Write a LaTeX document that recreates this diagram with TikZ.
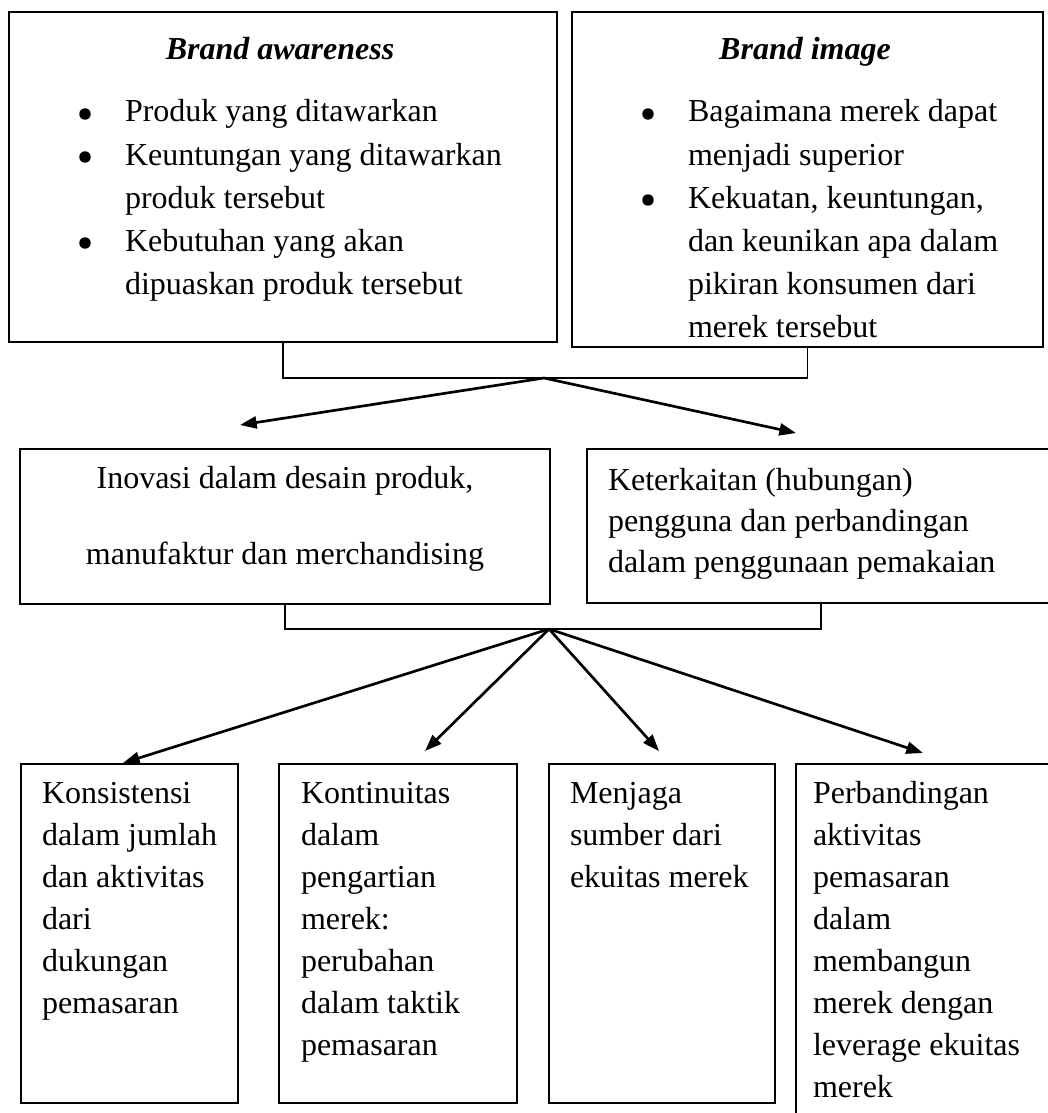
\documentclass[tikz,border=0pt]{standalone}
\usepackage{fontspec}
\setmainfont{Liberation Serif}
\usetikzlibrary{arrows.meta}
\newcommand\mybox[5]{\node[box, anchor=north west, minimum width={(#4-#2)*0.75pt}, minimum height={(#5-#3)*0.75pt}] (#1) at (#2,#3) {};}
\begin{document}
\begin{tikzpicture}[x=0.75pt, y=-0.75pt,
  box/.style={draw, line width=1.4pt, inner sep=0pt, outer sep=0pt},
  txt/.style={anchor=base west, inner sep=0pt, outer sep=0pt, font=\fontsize{24}{28}\selectfont},
  ctxt/.style={txt, anchor=base},
  head/.style={ctxt, font=\fontsize{24}{28}\selectfont\bfseries\itshape},
  dot/.style={circle, fill, inner sep=0pt, minimum size=8.6pt},
  conn/.style={line width=1.4pt},
  arr/.style={line width=2pt, -{Triangle[length=12.5pt,width=9pt]}}]
\fill[white] (0,0) rectangle (1048,1113);
\useasboundingbox (0,0) rectangle (1048,1113);
\clip (0,0) rectangle (1048,1113);

% top boxes
\mybox{boxA}{9}{12}{557}{342}
\mybox{boxB}{572}{12}{1043}{347}
\node[head] (hA) at (280,60) {Brand awareness};
\node[head] (hB) at (805,60) {Brand image};

\node[dot] (dA1) at (85,114) {};
\node[dot] (dA2) at (85,157) {};
\node[dot] (dA3) at (85,243) {};
\node[txt] (a1) at (125,122) {Produk yang ditawarkan};
\node[txt] (a2) at (125,165) {Keuntungan yang ditawarkan};
\node[txt] (a3) at (125,208) {produk tersebut};
\node[txt] (a4) at (125,251) {Kebutuhan yang akan};
\node[txt] (a5) at (125,294) {dipuaskan produk tersebut};

\node[dot] (dB1) at (648,114) {};
\node[dot] (dB2) at (648,200) {};
\node[txt] (b1) at (688,122) {Bagaimana merek dapat};
\node[txt] (b2) at (688,165) {menjadi superior};
\node[txt] (b3) at (688,208) {Kekuatan, keuntungan,};
\node[txt] (b4) at (688,251) {dan keunikan apa dalam};
\node[txt] (b5) at (688,294) {pikiran konsumen dari};
\node[txt] (b6) at (688,337) {merek tersebut};

% bracket 1 and arrows
\coordinate (m1) at (544,378);
\draw[conn] (boxA.south) -- (boxA.south |- m1) -- (boxB.south |- m1) -- (boxB.south);
\coordinate (t1) at (240,425);
\coordinate (t2) at (796,433);
\draw[arr] (m1) -- (t1);
\draw[arr] (m1) -- (t2);

% middle boxes
\mybox{boxC}{20}{449}{550}{604}
\mybox{boxD}{587}{449}{1055}{603}
\node[ctxt] (c1) at (285,488) {Inovasi dalam desain produk,};
\node[ctxt] (c2) at (285,564) {manufaktur dan merchandising};
\node[txt] (e1) at (608,490) {Keterkaitan (hubungan)};
\node[txt] (e2) at (608,531) {pengguna dan perbandingan};
\node[txt] (e3) at (608,572) {dalam penggunaan pemakaian};

% bracket 2 and arrows
\coordinate (m2) at (549,629);
\draw[conn] (boxC.south) -- (boxC.south |- m2) -- (boxD.south |- m2) -- (boxD.south);
\coordinate (u1) at (123,763);
\coordinate (u2) at (425,751);
\coordinate (u3) at (659,751);
\coordinate (u4) at (923,753);
\foreach \k in {1,2,3,4} \draw[arr] (m2) -- (u\k);

% bottom boxes
\mybox{boxE}{21}{764}{238}{1103}
\mybox{boxF}{279}{764}{517}{1103}
\mybox{boxG}{549}{764}{775}{1103}
\mybox{boxH}{796}{764}{1070}{1130}

\foreach \t [count=\i] in {Konsistensi, dalam jumlah, dan aktivitas, dari, dukungan, pemasaran}
  \node[txt] (p\i) at ({42},{803+(\i-1)*42}) {\t};
\foreach \t [count=\i] in {Kontinuitas, dalam, pengartian, merek:, perubahan, dalam taktik, pemasaran}
  \node[txt] (q\i) at ({301},{803+(\i-1)*42}) {\t};
\foreach \t [count=\i] in {Menjaga, sumber dari, ekuitas merek}
  \node[txt] (r\i) at ({570},{803+(\i-1)*42}) {\t};
\foreach \t [count=\i] in {Perbandingan, aktivitas, pemasaran, dalam, membangun, merek dengan, leverage ekuitas, merek}
  \node[txt] (s\i) at ({813},{803+(\i-1)*42}) {\t};
\end{tikzpicture}
\end{document}
